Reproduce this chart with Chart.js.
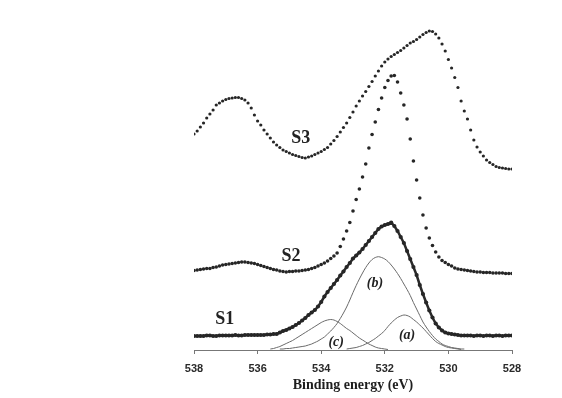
<!DOCTYPE html>
<html>
<head>
<meta charset="utf-8">
<script src="https://cdn.jsdelivr.net/npm/chart.js@4/dist/chart.umd.min.js"></script>
<style>
  html, body { margin: 0; padding: 0; background: #fff; }
  #wrap { width: 562px; height: 398px; }
</style>
</head>
<body>
<div id="wrap"><canvas id="xps"></canvas></div>
<script>
// binding energy grid, 538 -> 528 eV in 0.1 eV steps
const energy = [];
for (let i = 0; i <= 100; i++) energy.push(+(538 - i * 0.1).toFixed(1));

// measured spectra (arb. intensity, offset stacked)
const s3 = [
  217, 220, 224, 228, 233, 237, 241, 246, 248, 250,
  251.5, 252.5, 253, 253.5, 253.5, 252.5, 251, 248, 243, 236,
  230, 226, 221, 217, 213, 209, 206, 203.5, 201, 199.5,
  198, 196.5, 195.5, 194.5, 193.5, 193, 194, 195, 196.5, 198,
  199.5, 201.5, 203.5, 207, 210.5, 214.5, 219, 223.5, 228, 233.5,
  239, 245, 250, 255, 259.5, 264.5, 269.5, 275, 280, 285,
  289, 292, 294.5, 296.5, 298.5, 300.5, 303, 305.5, 308, 309.5,
  311.5, 314, 316.5, 318.5, 320, 319.5, 317, 313, 307, 300,
  291.5, 283, 273.5, 263.5, 250, 240, 232, 221, 211, 204,
  199, 195, 191, 188.5, 186.5, 184.5, 183.5, 183, 182.5, 182,
  182
];
const s2 = [
  80.5, 81, 81.5, 82, 82.5, 82.5, 83.5, 84, 85, 86,
  86.5, 87, 87.5, 88, 88.5, 89, 89, 88.5, 88, 87.5,
  86.5, 85.5, 84.5, 83.5, 82.5, 81.5, 81, 80, 79.5, 79,
  79.5, 79.5, 80, 80, 80.5, 81, 81.5, 82.5, 83.5, 85,
  86.5, 88, 90, 92.5, 95, 98, 104.5, 112, 120, 128.5,
  140, 151.5, 162, 174, 187, 203, 216.5, 229, 241.5, 253,
  263.5, 270.5, 275, 275.5, 269, 258, 246, 232, 212, 190,
  171, 153, 136, 123, 113, 105.5, 99, 94, 90.5, 88.5,
  86.5, 85, 83, 82, 81.5, 81, 80.5, 80, 79.5, 79,
  79, 78.5, 78.5, 78.5, 78, 78, 78, 78, 77.5, 77.5,
  77.5
];
const s1 = [
  15, 15, 15, 15, 15.5, 15.5, 15, 15, 15.5, 15.5,
  15.5, 15.5, 15.5, 16, 15.5, 15.5, 16, 16, 16, 16,
  16, 16, 16, 16.5, 16.5, 17, 17, 18.5, 20, 21,
  22.5, 24, 26, 28, 30.5, 33, 36, 38.5, 41, 44.5,
  49, 54.5, 59, 63, 67, 71, 75.5, 79.5, 84, 88,
  92.5, 95.5, 98.5, 102, 106, 110, 114, 118, 122, 124.5,
  126, 127, 128.5, 125, 120, 114, 108, 100, 92, 84,
  76, 66, 57, 48.5, 40.5, 33.5, 27.5, 23.5, 20.5, 18.5,
  17.5, 17, 16.5, 16, 15.5, 15.5, 15.5, 15.5, 15, 15.5,
  15.5, 15, 15.5, 15.5, 15, 15.5, 15.5, 15, 15.5, 15.5,
  15.5
];

// fitted components of S1, each starts at its own energy
const bStart = 535.3;
const fitB = [
  2, 2, 2.5, 2.5, 3, 3.5, 4, 4.5, 5, 6,
  7, 8.5, 10, 12, 14, 17, 20, 23.5, 27.5, 32.5,
  38, 44, 51, 58.5, 65.5, 72, 78, 83.5, 88, 91.5,
  93.5, 94.3, 93.5, 92, 89.5, 86, 82, 77.5, 72.5, 67,
  61.5, 55.5, 48.5, 42, 35.5, 29, 24, 19.5, 15.5, 12,
  9.5, 7, 5.5, 4.5, 3.5, 3, 2.5, 2, 2
];
const cStart = 535.6;
const fitC = [
  2, 2.5, 3.5, 4.5, 6, 7.5, 9, 10.5, 12.5, 14.5,
  16.5, 18.5, 20.5, 22.5, 24.5, 26.5, 28.5, 30, 31, 31.5,
  31, 29.5, 27.5, 25, 22.5, 20.5, 18, 15.5, 13, 11,
  9, 7, 5.5, 4, 3, 2.5, 2, 1.5
];
const aStart = 533.2;
const fitA = [
  2, 2.5, 3, 3.5, 4.5, 5.5, 7, 8.5, 10.5, 12.5,
  15, 17.5, 20.5, 24.5, 28, 31, 33.5, 35, 36, 35.5,
  34, 31.5, 29, 26, 23, 19.5, 16, 12.5, 9.5, 7.5,
  6, 4.5, 3.5, 3, 2.5, 2, 1.5
];

// text labels, in data coordinates
const seriesNames = ["S3", "S2", "S1"];
const seriesLabelAt = [[534.64, 213], [534.95, 95], [537.03, 32]];
const peakNames = ["(a)", "(b)", "(c)"];
const peakLabelAt = [[531.30, 16], [532.31, 68], [533.53, 9]];

const xTicks = [538, 536, 534, 532, 530, 528];

function pts(vals, start) {
  return vals.map((v, i) => ({ x: +(start - i * 0.1).toFixed(1), y: v }));
}

function dotted(vals, r, lineW) {
  return {
    data: pts(vals, energy[0]),
    showLine: lineW > 0,
    borderColor: "#2a2a2a",
    borderWidth: lineW,
    pointRadius: r,
    pointBorderWidth: 0,
    pointBackgroundColor: "#262626",
    pointBorderColor: "#262626"
  };
}

function fitLine(vals, start) {
  return {
    data: pts(vals, start),
    showLine: true,
    borderColor: "#6a6a6a",
    borderWidth: 1,
    pointRadius: 0,
    tension: 0.3,
    fill: false
  };
}

const labelPlugin = {
  id: "curveLabels",
  afterDatasetsDraw(chart) {
    const { ctx, scales: { x, y } } = chart;
    ctx.save();
    ctx.fillStyle = "#222";
    ctx.textAlign = "center";
    ctx.textBaseline = "middle";
    ctx.font = "bold 18px 'Liberation Serif', serif";
    seriesNames.forEach((t, i) => {
      const [e, v] = seriesLabelAt[i];
      ctx.fillText(t, x.getPixelForValue(e), y.getPixelForValue(v));
    });
    ctx.font = "italic bold 14px 'Liberation Serif', serif";
    peakNames.forEach((t, i) => {
      const [e, v] = peakLabelAt[i];
      ctx.fillText(t, x.getPixelForValue(e), y.getPixelForValue(v));
    });
    ctx.restore();
  }
};

new Chart(document.getElementById("xps"), {
  type: "scatter",
  data: {
    datasets: [
      fitLine(fitB, bStart),
      fitLine(fitC, cStart),
      fitLine(fitA, aStart),
      dotted(s3, 1.6, 0),
      dotted(s2, 1.8, 0),
      dotted(s1, 2.1, 2.5)
    ]
  },
  options: {
    responsive: true,
    maintainAspectRatio: false,
    animation: false,
    events: [],
    layout: { padding: { left: 194, right: 50, top: 20, bottom: 4 } },
    plugins: {
      legend: { display: false },
      tooltip: { enabled: false }
    },
    scales: {
      x: {
        type: "linear",
        reverse: true,
        min: 528,
        max: 538,
        afterBuildTicks(scale) {
          scale.ticks = xTicks.map(v => ({ value: v }));
        },
        afterFit(scale) { scale.height = 44; },
        grid: {
          display: true,
          drawOnChartArea: false,
          drawTicks: true,
          tickLength: 4,
          color: "#777"
        },
        border: { display: true, color: "#777", width: 1 },
        ticks: {
          padding: 8,
          color: "#2a2a2a",
          font: { family: "'Liberation Sans', Arial, sans-serif", size: 11, weight: "bold" }
        },
        title: {
          display: true,
          text: "Binding energy (eV)",
          color: "#1e1e1e",
          padding: { top: 3, bottom: 0 },
          font: { family: "'Liberation Serif', serif", size: 14, weight: "bold" }
        }
      },
      y: {
        display: false,
        min: 1,
        max: 331
      }
    }
  },
  plugins: [labelPlugin]
});
</script>
</body>
</html>
